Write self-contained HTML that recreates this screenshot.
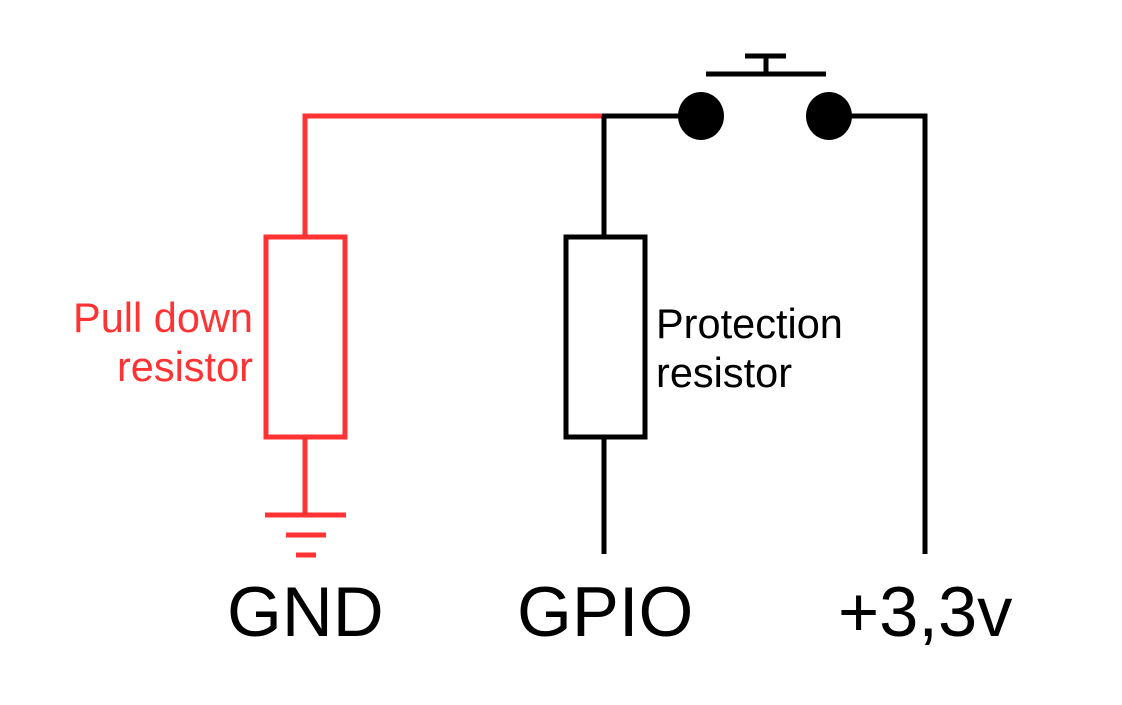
<!DOCTYPE html>
<html><head><style>html,body{margin:0;padding:0;background:#fff;}</style></head>
<body>
<svg width="1122" height="705" xmlns="http://www.w3.org/2000/svg" style="display:block">
<rect width="1122" height="705" fill="#fff"/>
<g fill="none" stroke="#f33" stroke-width="5">
<polyline points="305,237 305,116 604,116"/>
<rect x="266" y="237" width="79" height="200"/>
<line x1="305" y1="437" x2="305" y2="515"/>
<line x1="265" y1="515" x2="346" y2="515"/>
<line x1="286" y1="535" x2="326" y2="535"/>
<line x1="296" y1="555" x2="316" y2="555"/>
</g>
<g fill="none" stroke="#000" stroke-width="5">
<line x1="602" y1="116" x2="690" y2="116"/>
<line x1="604" y1="116" x2="604" y2="237"/>
<rect x="566" y="237" width="79" height="200"/>
<line x1="604" y1="437" x2="604" y2="554"/>
<polyline points="840,116 925,116 925,554"/>
<line x1="706" y1="74" x2="826" y2="74"/>
<line x1="766" y1="55" x2="766" y2="74"/>
<line x1="745" y1="56" x2="786" y2="56"/>
</g>
<ellipse cx="701" cy="116" rx="23" ry="24" fill="#000"/>
<ellipse cx="829" cy="116" rx="23" ry="24" fill="#000"/>
<g font-family="Liberation Sans, sans-serif">
<text x="253" y="332" font-size="41.5" fill="#f33" text-anchor="end">Pull down</text>
<text x="253" y="381" font-size="41.5" fill="#f33" text-anchor="end">resistor</text>
<text x="656" y="338" font-size="41.5" fill="#000">Protection</text>
<text x="656" y="387" font-size="41.5" fill="#000">resistor</text>
<text x="227" y="636" font-size="70.5" fill="#000">GND</text>
<text x="517" y="636" font-size="70.5" fill="#000">GPIO</text>
<text x="838" y="636" font-size="70.5" fill="#000">+3,3v</text>
</g>
</svg>
</body></html>
